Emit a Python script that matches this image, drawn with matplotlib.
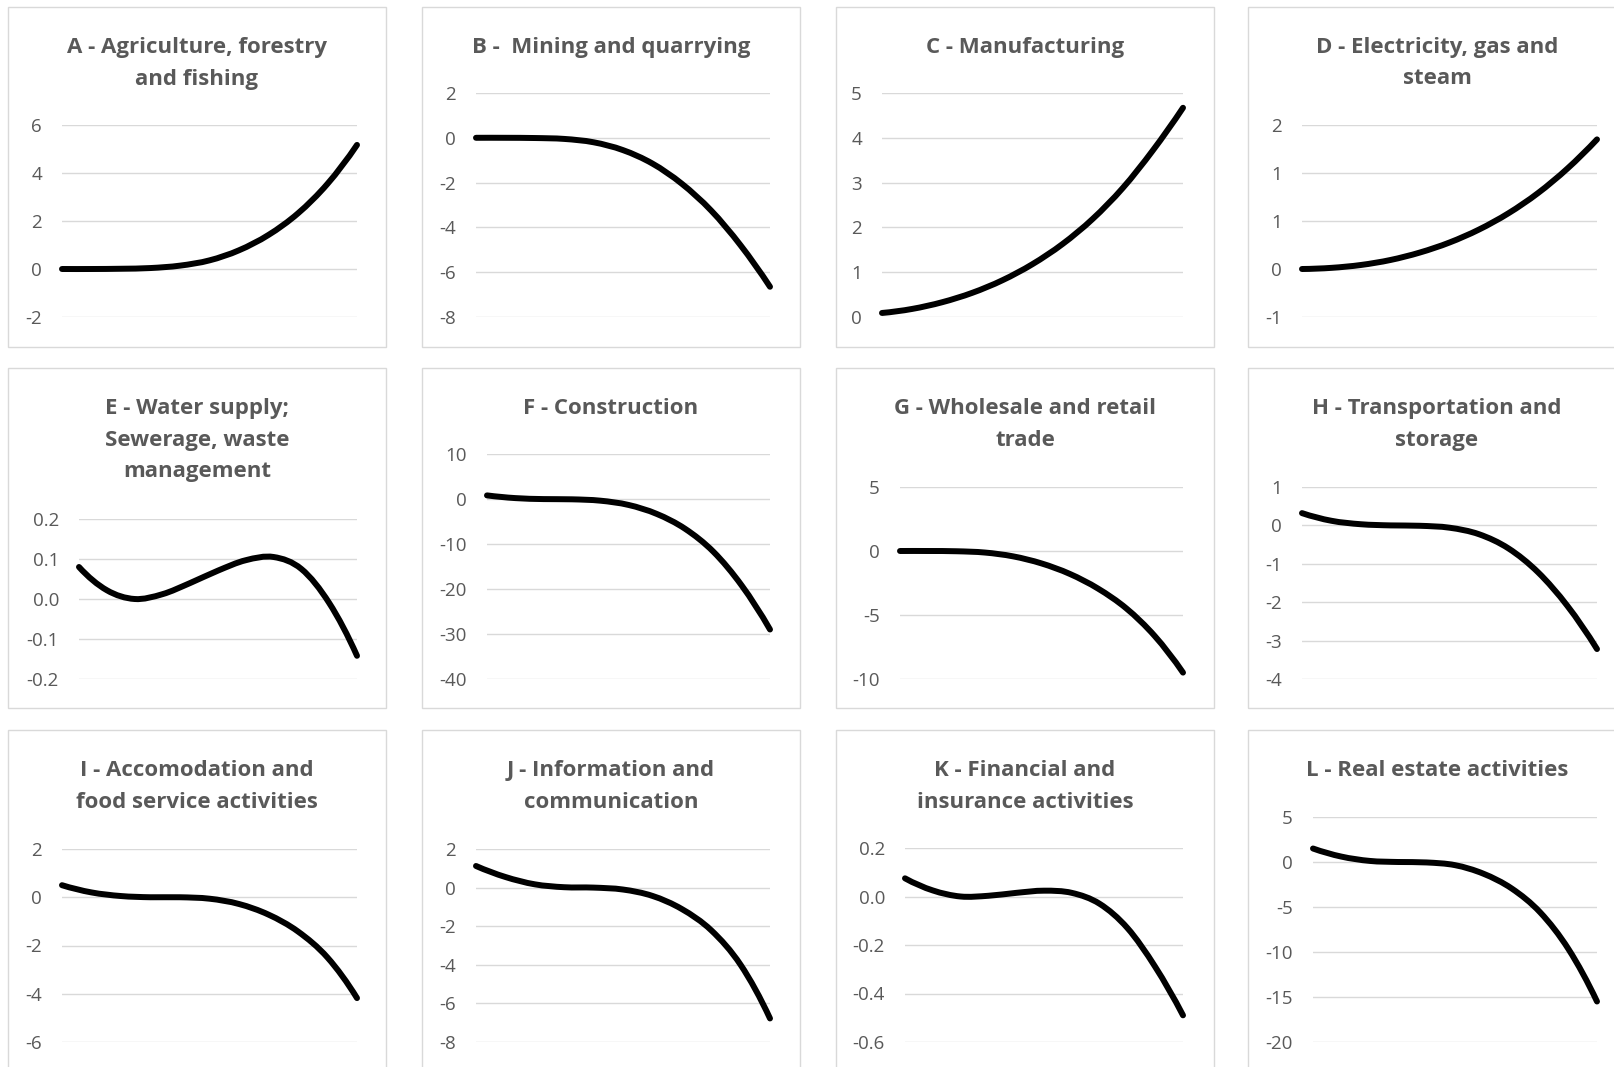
import matplotlib
matplotlib.use("Agg")
import matplotlib.pyplot as plt
from matplotlib.path import Path
from matplotlib.patches import PathPatch, Rectangle
from matplotlib.ticker import FixedLocator, FuncFormatter

W, H = 1615, 1067
DPI = 100

# ---- data -------------------------------------------------------------
steps = list(range(11))

titles = [
    ["A - Agriculture, forestry", "and fishing"],
    ["B -  Mining and quarrying"],
    ["C - Manufacturing"],
    ["D - Electricity, gas and", "steam"],
    ["E - Water supply;", "Sewerage, waste", "management"],
    ["F - Construction"],
    ["G - Wholesale and retail", "trade"],
    ["H - Transportation and", "storage"],
    ["I - Accomodation and", "food service activities"],
    ["J - Information and", "communication"],
    ["K - Financial and", "insurance activities"],
    ["L - Real estate activities"],
]

agriculture = [0.0, 0.0, 0.01, 0.04, 0.14, 0.36, 0.78, 1.42, 2.32, 3.55, 5.17]
mining = [0.0, 0.0, -0.01, -0.05, -0.2, -0.55, -1.15, -2.05, -3.25, -4.8, -6.65]
manufacturing = [0.09, 0.18, 0.33, 0.54, 0.82, 1.18, 1.63, 2.19, 2.88, 3.72, 4.67]
electricity = [0.0, 0.012, 0.042, 0.094, 0.172, 0.276, 0.411, 0.581, 0.791, 1.047, 1.35]
water = [0.08, 0.022, 0.0, 0.012, 0.04, 0.071, 0.097, 0.105, 0.075, -0.01, -0.142]
construction = [0.8, 0.2, -0.02, -0.07, -0.37, -1.32, -3.32, -6.62, -11.72, -19.22, -29.0]
trade = [0.0, 0.0, -0.02, -0.12, -0.42, -0.97, -1.79, -2.94, -4.49, -6.64, -9.5]
transport = [0.32, 0.12, 0.03, 0.0, -0.01, -0.06, -0.23, -0.6, -1.22, -2.1, -3.22]
accommodation = [0.5, 0.2, 0.05, 0.0, 0.0, -0.06, -0.28, -0.72, -1.42, -2.5, -4.18]
information = [1.12, 0.55, 0.17, 0.02, 0.0, -0.1, -0.43, -1.11, -2.21, -4.0, -6.78]
financial = [0.075, 0.025, 0.0, 0.003, 0.015, 0.024, 0.015, -0.03, -0.13, -0.29, -0.49]
real_estate = [1.5, 0.6, 0.12, 0.0, -0.05, -0.35, -1.3, -2.95, -5.6, -9.7, -15.5]

series = [agriculture, mining, manufacturing, electricity, water, construction,
          trade, transport, accommodation, information, financial, real_estate]

yticks = [
    [-2, 0, 2, 4, 6],
    [-8, -6, -4, -2, 0, 2],
    [0, 1, 2, 3, 4, 5],
    [-0.5, 0.0, 0.5, 1.0, 1.5],
    [-0.2, -0.1, 0.0, 0.1, 0.2],
    [-40, -30, -20, -10, 0, 10],
    [-10, -5, 0, 5],
    [-4, -3, -2, -1, 0, 1],
    [-6, -4, -2, 0, 2],
    [-8, -6, -4, -2, 0, 2],
    [-0.6, -0.4, -0.2, 0.0, 0.2],
    [-20, -15, -10, -5, 0, 5],
]
label_formats = ["int", "int", "int", "round", "dec1", "int",
                 "int", "int", "int", "int", "dec1", "int"]

# ---- layout (pixels) --------------------------------------------------
panel_lefts = [8, 422, 836, 1248]
panel_tops = [7, 368, 730]
panel_w, panel_h = 378, 340

# plot area of each chart: x left, x right, y of top gridline, y of bottom gridline
plot_boxes = [
    (62, 357, 125, 317), (476, 770, 93, 317), (882, 1183, 93, 317), (1302, 1597, 125, 317),
    (79, 357, 519, 679), (487, 770, 454, 679), (900, 1183, 487, 679), (1302, 1597, 487, 679),
    (62, 357, 849, 1042), (476, 770, 849, 1042), (905, 1183, 848, 1042), (1313, 1597, 817, 1042),
]

TEXT_GREY = "#595959"
GRID_GREY = "#d9d9d9"
FONT = ["Open Sans", "DejaVu Sans"]


def fmt_int(v, _pos=None):
    return f"{int(round(v))}"


def fmt_round(v, _pos=None):
    # Excel-style rounding: halves go away from zero
    sign = -1 if v < 0 else 1
    n = int(abs(v) + 0.5 + 1e-9)
    return f"{sign * n}" if n else "0"


def fmt_dec1(v, _pos=None):
    s = f"{v:.1f}"
    return "0.0" if s == "-0.0" else s


formatters = {"int": fmt_int, "round": fmt_round, "dec1": fmt_dec1}


def smooth_path(xs, ys):
    """Cubic Bezier path through the points (Catmull-Rom style smoothing)."""
    pts = list(zip(xs, ys))
    n = len(pts)
    # ghost points at both ends continue the local curvature
    g0 = (3 * pts[0][0] - 3 * pts[1][0] + pts[2][0], 3 * pts[0][1] - 3 * pts[1][1] + pts[2][1])
    g1 = (3 * pts[-1][0] - 3 * pts[-2][0] + pts[-3][0], 3 * pts[-1][1] - 3 * pts[-2][1] + pts[-3][1])
    ext = [g0] + pts + [g1]
    verts = [pts[0]]
    codes = [Path.MOVETO]
    for i in range(1, n):
        p0, p1, p2, p3 = ext[i - 1], ext[i], ext[i + 1], ext[i + 2]
        c1 = (p1[0] + (p2[0] - p0[0]) / 6.0, p1[1] + (p2[1] - p0[1]) / 6.0)
        c2 = (p2[0] - (p3[0] - p1[0]) / 6.0, p2[1] - (p3[1] - p1[1]) / 6.0)
        verts += [c1, c2, p2]
        codes += [Path.CURVE4] * 3
    return Path(verts, codes)


fig = plt.figure(figsize=(W / DPI, H / DPI), dpi=DPI)
fig.patch.set_facecolor("white")

for k in range(12):
    row, col = divmod(k, 4)
    px, py = panel_lefts[col], panel_tops[row]

    # panel frame
    fig.add_artist(Rectangle((px / W, 1 - (py + panel_h) / H), panel_w / W, panel_h / H,
                             transform=fig.transFigure, fill=False,
                             edgecolor=GRID_GREY, lw=1.0, zorder=0))

    # title lines
    cx = px + panel_w / 2
    for i, line in enumerate(titles[k]):
        base = py + 46 + i * 31.5
        fig.text(cx / W, 1 - base / H, line, ha="center", va="baseline",
                 fontsize=16, fontweight="bold", color=TEXT_GREY, family=FONT)

    x0, x1, yt, yb = plot_boxes[k]
    ax = fig.add_axes([x0 / W, 1 - yb / H, (x1 - x0) / W, (yb - yt) / H])
    ax.set_facecolor("none")
    ticks = yticks[k]
    ax.set_xlim(steps[0], steps[-1])
    ax.set_ylim(ticks[0], ticks[-1])
    ax.yaxis.set_major_locator(FixedLocator(ticks))
    ax.yaxis.set_major_formatter(FuncFormatter(formatters[label_formats[k]]))
    ax.set_xticks([])
    ax.yaxis.grid(True, color=GRID_GREY, lw=1.0)
    ax.set_axisbelow(True)
    for sp in ax.spines.values():
        sp.set_visible(False)
    ax.tick_params(axis="y", length=0, pad=14.4, labelsize=13.5, labelcolor=TEXT_GREY)
    for lab in ax.get_yticklabels():
        lab.set_family(FONT)

    patch = PathPatch(smooth_path(steps, series[k]), fill=False, edgecolor="black",
                      lw=4.3, capstyle="round", joinstyle="round", clip_on=False, zorder=3)
    ax.add_patch(patch)

fig.savefig("out.png", dpi=DPI, facecolor="white")
